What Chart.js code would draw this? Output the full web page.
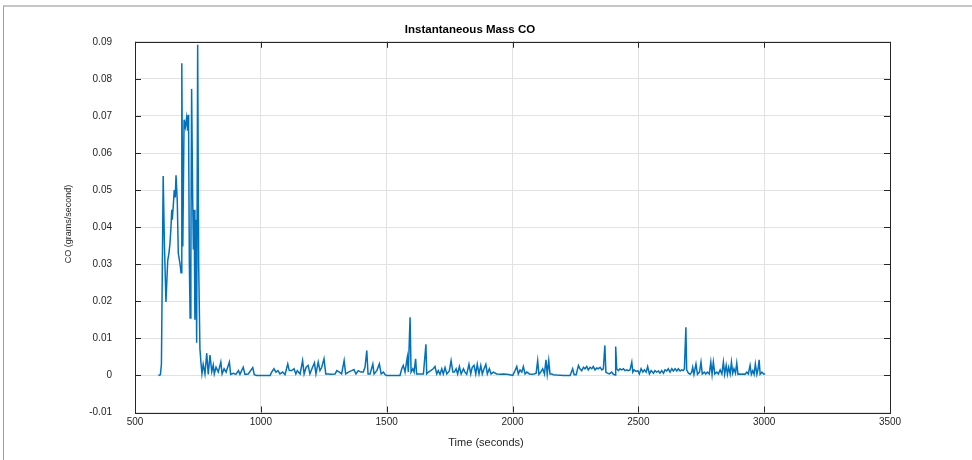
<!DOCTYPE html>
<html>
<head>
<meta charset="utf-8">
<script src="https://cdn.jsdelivr.net/npm/chart.js@4.4.0/dist/chart.umd.min.js"></script>
<style>
  html, body { margin: 0; padding: 0; background: #fff; }
  .wrap { position: relative; width: 972px; height: 460px; overflow: hidden; }
  .frame { position: absolute; left: 3px; top: 5px; width: 990px; height: 480px;
           border-top: 2px solid #c6c6c6; border-left: 1px solid #a0a0a0; }
  canvas { position: absolute; left: 0; top: 0; }
</style>
</head>
<body>
<div class="wrap">
  <div class="frame"></div>
  <canvas id="coChart" width="972" height="460"></canvas>
</div>
<script>
// time (s) and CO mass rate (g/s)
const times = [
  593, 601, 605, 612, 617, 623, 630, 635, 639, 643, 646, 648, 652, 656, 660, 663,
  668, 672, 679, 683, 686, 690, 695, 700, 705, 709, 711, 713, 716, 719, 722, 725,
  729, 732, 735, 738, 742, 745, 749, 753, 758, 762, 766,
  771, 778, 785, 791, 798, 805, 811, 815, 822, 831, 841, 846, 854, 862, 875, 880,
  891, 901, 911, 917, 930, 937, 950, 968, 974, 984, 1037, 1043, 1052, 1060, 1068,
  1076, 1087, 1096, 1107, 1113, 1123, 1132, 1139, 1145, 1156, 1166, 1172, 1180,
  1188, 1195, 1203, 1213, 1219, 1228, 1235, 1242, 1251, 1258, 1268, 1278, 1295,
  1302, 1312, 1321, 1331, 1337, 1348, 1361, 1370, 1378, 1387, 1398, 1407, 1414,
  1421, 1426, 1434, 1445, 1450, 1461, 1471, 1478, 1487, 1494, 1500, 1553, 1560,
  1566, 1573, 1577, 1582, 1586, 1593, 1597, 1604, 1609, 1615, 1619, 1626, 1635,
  1646, 1656, 1659, 1666, 1675, 1685, 1692, 1699, 1705, 1712, 1719, 1725, 1732,
  1739, 1749, 1756, 1763, 1769, 1776, 1782, 1789, 1796, 1805, 1811, 1818, 1827,
  1834, 1840, 1847, 1854, 1860, 1867, 1874, 1880, 1887, 1894, 1900, 1908, 1915,
  1924, 1937, 1951, 1964, 1977, 1990, 2001, 2010, 2017, 2023, 2030, 2037, 2043,
  2050, 2057, 2067, 2076, 2086, 2094, 2100, 2105, 2112, 2120, 2127, 2133, 2138,
  2144, 2149, 2156, 2162, 2176, 2202, 2229, 2239, 2245, 2253, 2262, 2268, 2275,
  2282, 2288, 2295, 2301, 2308, 2315, 2321, 2328, 2335, 2341, 2348, 2355, 2361,
  2367, 2371, 2377, 2385, 2394, 2401, 2408, 2410, 2414, 2421, 2427, 2434, 2441,
  2447, 2454, 2460, 2467, 2474, 2478, 2483, 2491, 2498, 2504, 2511, 2518, 2524,
  2531, 2537, 2544, 2551, 2560, 2566, 2573, 2580, 2586, 2593, 2600, 2606, 2613,
  2619, 2626, 2633, 2639, 2646, 2653, 2659, 2666, 2673, 2679, 2683, 2689, 2692,
  2699, 2706, 2712, 2716, 2721, 2729, 2735, 2743, 2749, 2754, 2762, 2768, 2774,
  2782, 2788, 2793, 2798, 2804, 2812, 2818, 2825, 2832, 2838, 2843, 2849, 2854,
  2859, 2865, 2870, 2875, 2880, 2886, 2891, 2896, 2904, 2911, 2917, 2924, 2931,
  2937, 2944, 2949, 2955, 2960, 2965, 2971, 2976, 2980, 2984, 2991, 2997, 3004
];
const coValues = [
  0, 0.0002, 0.003, 0.0538, 0.035, 0.0198, 0.031, 0.033, 0.0357, 0.040, 0.0447, 0.042, 0.0456, 0.050, 0.048, 0.054,
  0.047, 0.033, 0.030, 0.0277, 0.0842, 0.0348, 0.069, 0.067, 0.0695, 0.066, 0.0703, 0.066, 0.030, 0.0155, 0.031, 0.0773,
  0.049, 0.034, 0.0447, 0.015, 0.042, 0.0088, 0.0892, 0.030, 0.0072, 0.0035, 0.0005,
  0.003, 0.0004, 0.006, 0.0003, 0.0055, 0.001, 0.0028, 0.0004, 0.0022, 0.0009, 0.0036, 0.0004, 0.0018, 0.0009, 0.0036, 0.0003,
  0.0006, 0.0003, 0.0013, 0.0003, 0.0022, 0.0003, 0.0004, 0.0021, 0.0002, 0, 0, 0.0009, 0.0018, 0.0009, 0.0013,
  0.0004, 0.0009, 0.0002, 0.0031, 0.0013, 0.0013, 0.0018, 0.0004, 0.0013, 0.0004, 0.004, 0.0004, 0.0022,
  0.0027, 0.0004, 0.0018, 0.0034, 0.0004, 0.0036, 0.0013, 0.0022, 0.0045, 0.0004, 0.0004, 0.0003, 0.0004,
  0.0013, 0.0009, 0.0004, 0.004, 0.0004, 0.0009, 0.0013, 0.0016, 0.0004, 0.0013, 0.0009, 0.0009, 0.0022,
  0.0067, 0.0004, 0.0004, 0.0031, 0.0004, 0.0013, 0.0031, 0.0004, 0.0009, 0.0002, 0, 0, 0.0018,
  0.0027, 0.0009, 0.0027, 0.0049, 0.0009, 0.0157, 0.0009, 0.0018, 0.0009, 0.0045, 0.0004, 0.0004, 0.0004,
  0.0004, 0.0084, 0.0004, 0.0009, 0.0013, 0.0018, 0.0024, 0.0004, 0.0013, 0.0003, 0.0018, 0.0004, 0.0021,
  0.0004, 0.0012, 0.004, 0.0009, 0.0009, 0.0018, 0.0004, 0.0024, 0.0004, 0.0018, 0.0009, 0.0003, 0.003,
  0.0004, 0.0022, 0.0027, 0.0004, 0.003, 0.0004, 0.0027, 0.0004, 0.0018, 0.003, 0.0004, 0.0018, 0.0004,
  0.0009, 0.0004, 0.0003, 0.0004, 0.0003, 0.0002, 0, 0.0013, 0.0024, 0.0004, 0.0015, 0.0009, 0.0024,
  0.0004, 0.0009, 0.0004, 0.0003, 0.0004, 0.0006, 0.004, 0.0003, 0.0009, 0.0018, 0.0004, 0.0042, 0.0004,
  0.004, 0.0004, 0.0004, 0.0002, 0.0001, 0, 0, 0.0018, 0.0002, 0.0002, 0.0027, 0.0018, 0.0013,
  0.0022, 0.0018, 0.0024, 0.0015, 0.0022, 0.0018, 0.0024, 0.0015, 0.002, 0.0018, 0.0022, 0.0015, 0.0018,
  0.0081, 0.0009, 0.0006, 0.0004, 0.0009, 0.0003, 0.0001, 0.0078, 0.0018, 0.0013, 0.0018, 0.0015, 0.0018,
  0.0013, 0.0015, 0.0013, 0.0015, 0.0036, 0.0009, 0.0015, 0.0011, 0.0013, 0.0004, 0.0018, 0.0009, 0.0015,
  0.0009, 0.0024, 0.0004, 0.0013, 0.0006, 0.0013, 0.0009, 0.0012, 0.0006, 0.0013, 0.0006, 0.0015, 0.0012,
  0.0018, 0.0009, 0.0018, 0.0012, 0.0018, 0.0012, 0.0018, 0.0012, 0.0015, 0.0013, 0.0018, 0.013, 0.0015,
  0.0006, 0.0003, 0.0009, 0.0022, 0.0003, 0.0031, 0.0003, 0.0009, 0.0036, 0.0004, 0.0009, 0.0004, 0.0009,
  0.0004, 0.0036, 0.0003, 0.0036, 0.0004, 0.0009, 0.0004, 0.0015, 0.0004, 0.0036, 0.0003, 0.0027, 0.0003,
  0.0022, 0.0004, 0.0036, 0.0006, 0.0018, 0.0006, 0.0033, 0.0003, 0.0004, 0.0003, 0.0004, 0.0003, 0.0009,
  0.0004, 0.0027, 0.0003, 0.0013, 0.0003, 0.0031, 0.0003, 0.0018, 0.0042, 0.0003, 0.0009, 0.0004, 0.0004
];
const xTicks = [500, 1000, 1500, 2000, 2500, 3000, 3500];
const xTickLabels = ['500', '1000', '1500', '2000', '2500', '3000', '3500'];
const yTicks = [-0.01, 0, 0.01, 0.02, 0.03, 0.04, 0.05, 0.06, 0.07, 0.08, 0.09];
const yTickLabels = ['-0.01', '0', '0.01', '0.02', '0.03', '0.04', '0.05', '0.06', '0.07', '0.08', '0.09'];

const FONT = '"Liberation Sans", Arial, Helvetica, sans-serif';

// MATLAB style box, inward ticks and axis labels
const matlabAxes = {
  id: 'matlabAxes',
  afterDraw(chart) {
    const { ctx, chartArea: a, scales } = chart;
    const tl = 6;
    ctx.save();
    ctx.strokeStyle = '#262626';
    ctx.lineWidth = 1;
    ctx.beginPath();
    xTicks.forEach(v => {
      const px = Math.round(scales.x.getPixelForValue(v)) + 0.5;
      ctx.moveTo(px, a.bottom); ctx.lineTo(px, a.bottom - tl);
      ctx.moveTo(px, a.top); ctx.lineTo(px, a.top + tl);
    });
    yTicks.forEach(v => {
      const py = Math.round(scales.y.getPixelForValue(v)) + 0.5;
      ctx.moveTo(a.left, py); ctx.lineTo(a.left + tl, py);
      ctx.moveTo(a.right, py); ctx.lineTo(a.right - tl, py);
    });
    ctx.stroke();
    ctx.strokeRect(Math.round(a.left) + 0.5, Math.round(a.top) + 0.5,
                   Math.round(a.right - a.left), Math.round(a.bottom - a.top));

    ctx.fillStyle = '#262626';
    ctx.textAlign = 'center';
    ctx.textBaseline = 'middle';
    ctx.font = '11px ' + FONT;
    ctx.fillText('Time (seconds)', 486, 443);
    ctx.translate(69, 224);
    ctx.rotate(-Math.PI / 2);
    ctx.font = '9px ' + FONT;
    ctx.fillText('CO (grams/second)', 0, 0);
    ctx.restore();
  }
};

new Chart(document.getElementById('coChart'), {
  type: 'scatter',
  data: {
    datasets: [{
      label: 'CO',
      data: times.map((t, i) => ({ x: t, y: coValues[i] })),
      showLine: true,
      borderColor: '#0072BD',
      borderWidth: 1.5,
      pointRadius: 0,
      tension: 0
    }]
  },
  options: {
    responsive: false,
    animation: false,
    devicePixelRatio: 1,
    layout: { padding: { left: 50, right: 82, top: 0, bottom: 0 } },
    plugins: {
      legend: { display: false },
      tooltip: { enabled: false },
      title: {
        display: true,
        text: 'Instantaneous Mass CO',
        color: '#000',
        font: { family: FONT, size: 11.5, weight: 'bold' },
        padding: { top: 23, bottom: 5 }
      }
    },
    scales: {
      x: {
        type: 'linear',
        min: 500,
        max: 3500,
        afterBuildTicks: s => { s.ticks = xTicks.map(v => ({ value: v })); },
        afterFit: s => { s.height = 47.5; },
        grid: { color: '#e2e2e2', drawTicks: false },
        border: { display: false },
        ticks: {
          padding: 4,
          color: '#262626',
          font: { family: FONT, size: 10 },
          maxRotation: 0,
          callback: (v, i) => xTickLabels[i]
        }
      },
      y: {
        type: 'linear',
        min: -0.01,
        max: 0.09,
        afterBuildTicks: s => { s.ticks = yTicks.map(v => ({ value: v })); },
        afterFit: s => { s.width = 85; },
        grid: { color: '#e2e2e2', drawTicks: false },
        border: { display: false },
        ticks: {
          padding: 23,
          color: '#262626',
          font: { family: FONT, size: 10 },
          callback: (v, i) => yTickLabels[i]
        }
      }
    }
  },
  plugins: [matlabAxes]
});
</script>
</body>
</html>
